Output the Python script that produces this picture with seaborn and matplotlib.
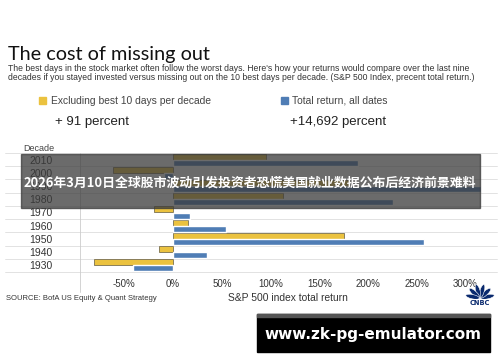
import numpy as np
import pandas as pd
import matplotlib.pyplot as plt
import seaborn as sns
from matplotlib.patches import Rectangle, Ellipse
from matplotlib.lines import Line2D

# -------------------------------
# Data
# -------------------------------
decades = ["2010", "2000", "1990", "1980", "1970", "1960", "1950", "1940", "1930"]
excl_best10 = [95, -62, 180, 113, -20, 15, 175, -14, -81]
total_return = [190, -9, 316, 226, 17, 54, 257, 35, -41]
series_names = ["Excluding best 10 days per decade", "Total return, all dates"]
xticks = [-50, 0, 50, 100, 150, 200, 250, 300]

df = pd.DataFrame({
    "decade": decades * 2,
    "value": excl_best10 + total_return,
    "series": [series_names[0]] * len(decades) + [series_names[1]] * len(decades),
})

YELLOW = "#ebc23f"
BLUE = "#4f7db5"
NAVY = "#0a2a6e"
W, H = 500, 362

def fx(px):
    return px / W

def fy(py):
    return 1 - py / H

# -------------------------------
# Figure
# -------------------------------
sns.set_style("white")
plt.rcParams["font.family"] = ["Liberation Sans", "DejaVu Sans"]

fig = plt.figure(figsize=(5, 3.62), dpi=100)
ax = fig.add_axes([fx(80), fy(272), fx(483) - fx(80), fy(153) - fy(272)])

sns.barplot(
    data=df, y="decade", x="value", hue="series", order=decades,
    hue_order=series_names, palette=[YELLOW, BLUE], orient="h",
    width=0.92, ax=ax, legend=False, saturation=1,
)
for bar in ax.patches[:len(decades)]:
    bar.set_edgecolor("#7a7050")
    bar.set_linewidth(0.6)

ax.set_xlim(-95.5, 318)
ax.set_ylim(len(decades) - 0.5, -0.5)
ax.set_xticks(xticks)
ax.set_xticklabels([f"{t}%" for t in xticks], fontsize=7, color="#333333")
ax.set_yticks(range(len(decades)))
ax.set_yticklabels(decades, fontsize=7.5, color="#333333", ha="center")
ax.tick_params(axis="y", length=0, pad=28)
ax.tick_params(axis="x", length=0, pad=5)
ax.set_xlabel("")
ax.set_ylabel("")
for s in ax.spines.values():
    s.set_visible(False)

# separators between decades
for i in range(len(decades) + 1):
    ax.axhline(i - 0.5, xmin=-0.185, xmax=1.035, color="#dddddd", lw=0.6,
               clip_on=False, zorder=0)

# left vertical rule
fig.add_artist(Line2D([fx(80), fx(80)], [fy(153), fy(292)], color="#cccccc", lw=0.6))

# -------------------------------
# Text
# -------------------------------
fig.text(fx(8), fy(60), "The cost of missing out", fontsize=14.3, family="Lato",
         color="#111111", va="baseline")
fig.text(fx(8), fy(71), "The best days in the stock market often follow the worst days. "
         "Here's how your returns would compare over the last nine", fontsize=6.2,
         color="#333333", va="baseline")
fig.text(fx(8), fy(80), "decades if you stayed invested versus missing out on the 10 best "
         "days per decade. (S&P 500 Index, precent total return.)", fontsize=6.2,
         color="#333333", va="baseline")

fig.add_artist(Rectangle((fx(39), fy(104)), fx(7), fy(97) - fy(104), color=YELLOW,
                         transform=fig.transFigure))
fig.text(fx(51), fy(100.5), series_names[0], fontsize=7.4, color="#444444", va="center")
fig.add_artist(Rectangle((fx(281), fy(104)), fx(7), fy(97) - fy(104), color=BLUE,
                         transform=fig.transFigure))
fig.text(fx(292), fy(100.5), series_names[1], fontsize=7.4, color="#444444", va="center")

fig.text(fx(55), fy(122), "+ 91 percent", fontsize=9.5, color="#222222", va="center")
fig.text(fx(290), fy(122), "+14,692 percent", fontsize=9.5, color="#222222", va="center")

fig.text(fx(23), fy(148), "Decade", fontsize=6.5, color="#444444", va="center")

fig.text(fx(6), fy(299), "SOURCE: BofA US Equity & Quant Strategy", fontsize=5.5,
         color="#333333", va="center")
fig.text(fx(288), fy(298), "S&P 500 index total return", fontsize=7.4, color="#333333",
         va="center", ha="center")

# CNBC peacock
lax = fig.add_axes([fx(464), fy(299), fx(32), fy(284) - fy(299)])
lax.set_xlim(-1.1, 1.1)
lax.set_ylim(-0.05, 1.0)
lax.axis("off")
for ang in np.linspace(12, 168, 6):
    r = np.radians(ang)
    lax.add_patch(Ellipse((0.52 * np.cos(r), 0.52 * np.sin(r)), 0.95, 0.3,
                          angle=ang, facecolor=NAVY, edgecolor="white", lw=0.4))
fig.text(fx(480), fy(303), "CNBC", fontsize=4.8, color=NAVY, weight="bold",
         va="center", ha="center", family="DejaVu Sans")

# overlay banner
fig.add_artist(Rectangle((fx(21), fy(208)), fx(480) - fx(21), fy(154) - fy(208),
                         color="#3a3a3a", alpha=0.75, transform=fig.transFigure, zorder=5))
fig.text(fx(250), fy(183), "2026年3月10日全球股市波动引发投资者恐慌美国就业数据公布后经济前景难料",
         fontsize=9.3, color="white", weight="bold", ha="center", va="center",
         family=["Noto Sans CJK SC", "DejaVu Sans"], zorder=6)

# watermark box
fig.add_artist(Rectangle((fx(257), fy(352)), fx(490) - fx(257), fy(314) - fy(352),
                         color="black", transform=fig.transFigure, zorder=5))
fig.add_artist(Rectangle((fx(257), fy(317)), fx(490) - fx(257), fy(314) - fy(317),
                         color="#555555", transform=fig.transFigure, zorder=6))
fig.text(fx(373), fy(335), "www.zk-pg-emulator.com", fontsize=11, color="white",
         weight="bold", ha="center", va="center", family="DejaVu Sans", zorder=7)

plt.savefig("out.png", dpi=100)
plt.close()
